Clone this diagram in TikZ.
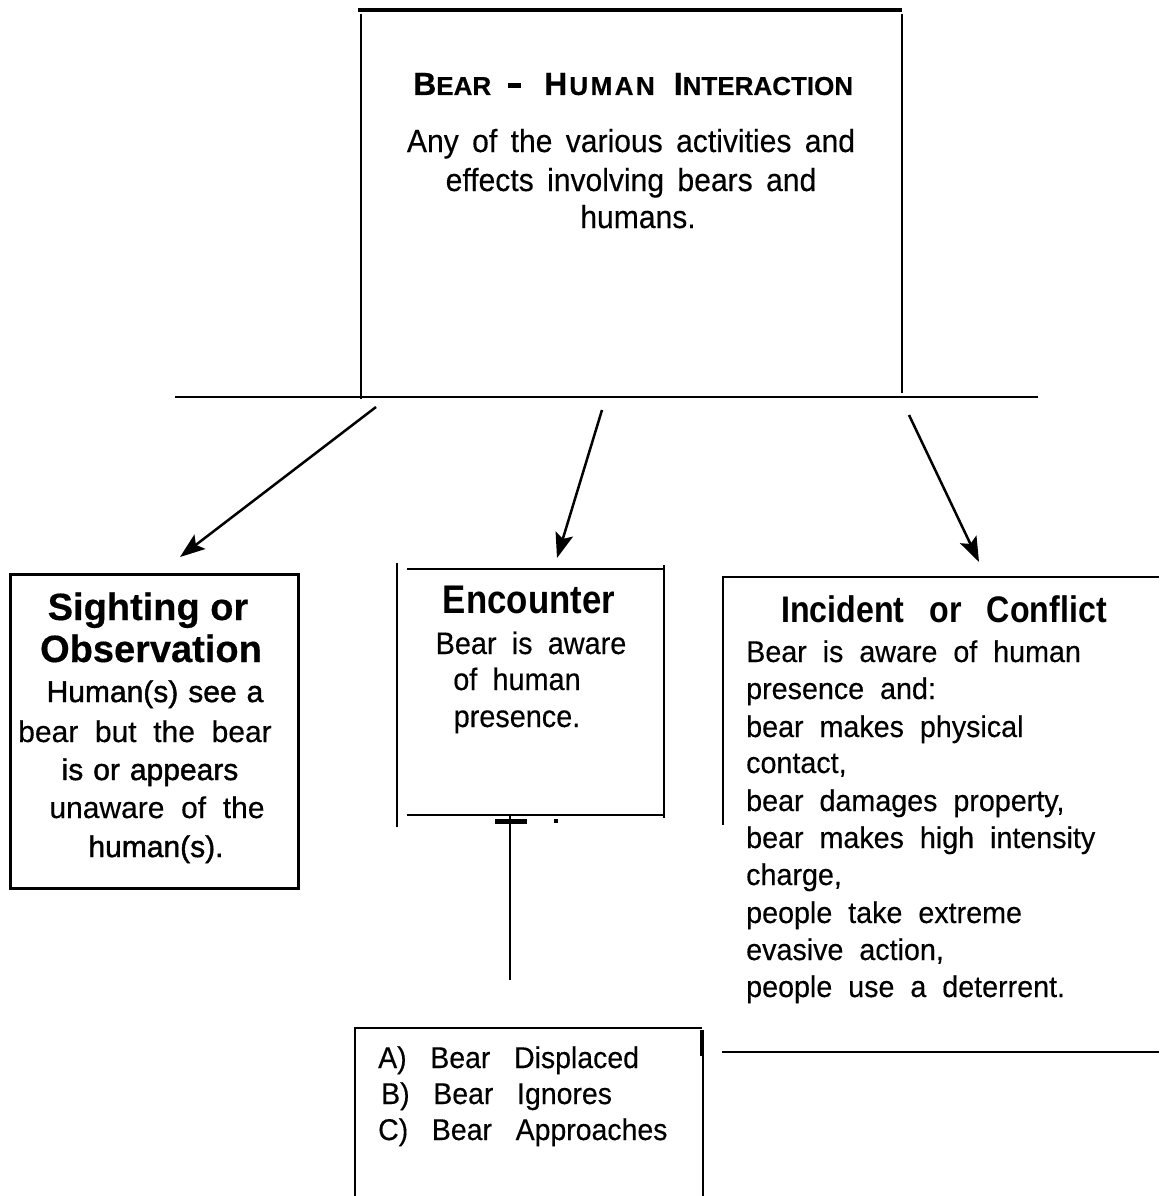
\documentclass[tikz,border=0pt]{standalone}
\usepackage{fontspec}
\setmainfont{Liberation Sans}
\newfontfamily\titlef{Liberation Sans}[FakeBold=0.4]
\newfontfamily\topf{Liberation Sans}[WordSpace=1.6,FakeStretch=0.94,FakeBold=0.3]
\newfontfamily\incf{Liberation Sans}[WordSpace=2.0,FakeStretch=0.956,FakeBold=0.31]
\newfontfamily\encf{Liberation Sans}[WordSpace=1.9,FakeStretch=0.93,FakeBold=0.32]
\newfontfamily\headf{Liberation Sans}[WordSpace=2.8,FakeStretch=0.87]
\newfontfamily\sigf{Liberation Sans}[WordSpace=2,FakeBold=0.33]
\newfontfamily\sigsemi{Liberation Sans}[WordSpace=1.2,FakeBold=1.4]
\newfontfamily\listf{Liberation Sans}[WordSpace=3,FakeStretch=0.948,FakeBold=0.34]
\usetikzlibrary{arrows.meta}
\begin{document}
\begin{tikzpicture}[x=1pt,y=-1pt,
  ln/.style={anchor=base,inner sep=0pt},
  lnw/.style={anchor=base west,inner sep=0pt},
  topbody/.style={font=\topf\fontsize{32}{38}\selectfont},
  incbody/.style={font=\incf\fontsize{30}{36}\selectfont},
  encbody/.style={font=\encf\fontsize{31}{36}\selectfont},
  sigbody/.style={font=\sigf\fontsize{30}{36}\selectfont},
  sigsb/.style={font=\sigsemi\fontsize{30}{36}\selectfont},
  listbody/.style={font=\listf\fontsize{30}{36}\selectfont},
  edge/.style={line width=2pt},
  arr/.style={line width=2.5pt,-{Stealth[length=25pt,width=18pt,inset=5pt]}}]
\useasboundingbox (0,0) rectangle (1159,1196);
\fill[white] (0,0) rectangle (1159,1196);

% ---- top box
\draw[line width=3.5pt] (358,10) -- (902,10);
\draw[edge] (361,14) -- (361,399);
\draw[edge] (902,14) -- (902,393);
\draw[edge] (175,397) -- (1038,397);

\node[lnw,font=\titlef\bfseries\fontsize{32}{32}\selectfont] (title) at (413,95)
  {B{\fontsize{26}{26}\selectfont EAR}\hspace{17pt}\rule[7pt]{13pt}{5pt}\hspace{23pt}H\hspace{2pt}{\fontsize{26}{26}\selectfont U\hspace{2.5pt}M\hspace{2.5pt}A\hspace{2.5pt}N}\hspace{19pt}I{\fontsize{26}{26}\selectfont NTERACTION}};
\node[ln,topbody] (top1) at (631,152) {Any of the various activities and};
\node[ln,topbody] (top2) at (631,191) {effects involving bears and};
\node[ln,topbody] (top3) at (638,228) {humans.};

% ---- arrows
\coordinate (a1s) at (376,407); \coordinate (a1e) at (180,557);
\coordinate (a2s) at (602,410); \coordinate (a2e) at (557,558);
\coordinate (a3s) at (909,415); \coordinate (a3e) at (979,562);
\draw[arr] (a1s) -- (a1e);
\draw[arr] (a2s) -- (a2e);
\draw[arr] (a3s) -- (a3e);

% ---- sighting box
\draw[line width=3pt] (10,574) rectangle (298,888);
\node[ln,font=\titlef\bfseries\fontsize{38}{42}\selectfont] (s1) at (148,620) {Sighting or};
\node[ln,font=\titlef\bfseries\fontsize{38}{42}\selectfont] (s2) at (151,662) {Observation};
\node[ln,sigsb] (s3) at (155,702) {Human(s) see a};
\node[ln,sigbody] (s4) at (145,742) {bear but the bear};
\node[ln,sigsb] (s5) at (150,780) {is or appears};
\node[ln,sigbody] (s6) at (157,818) {unaware of the};
\node[ln,sigsb] (s7) at (156,857) {human(s).};

% ---- encounter box
\draw[edge] (397,563) -- (397,827);
\draw[edge] (407,569) -- (664,569);
\draw[edge] (664,565) -- (664,818);
\draw[edge] (407,815) -- (664,815);
\node[ln,font=\headf\bfseries\fontsize{40}{40}\selectfont] (e0) at (529,613) {Encounter};
\node[ln,encbody] (e1) at (531,654) {Bear is aware};
\node[ln,encbody] (e2) at (517,690) {of human};
\node[ln,encbody] (e3) at (517,727) {presence.};
\draw[line width=5pt] (495,821) -- (527,821);
\fill (554,819) rectangle (558,823);
\coordinate (vtop) at (510,815);
\coordinate (vbot) at (510,980);
\draw[edge] (vtop) -- (vbot);

% ---- bottom list box
\draw[edge] (354,1028) -- (702,1028);
\draw[edge] (355,1028) -- (355,1196);
\draw[line width=4pt] (702,1030) -- (702,1056);
\draw[edge] (703,1030) -- (703,1196);
\node[lnw,listbody] (l1) at (378,1068) {A) Bear Displaced};
\node[lnw,listbody] (l2) at (381,1104) {B) Bear Ignores};
\node[lnw,listbody] (l3) at (378,1140) {C) Bear Approaches};

% ---- incident box
\draw[edge] (722,577) -- (1159,577);
\draw[edge] (723,577) -- (723,825);
\draw[edge] (722,1052) -- (1159,1052);
\node[ln,font=\headf\bfseries\fontsize{37}{40}\selectfont] (i0) at (944,622) {Incident or Conflict};
\node[lnw,incbody] (i1) at (746,662) {Bear is aware of human};
\node[lnw,incbody] (i2) at (746,699) {presence and:};
\node[lnw,incbody] (i3) at (746,737) {bear makes physical};
\node[lnw,incbody] (i4) at (746,773) {contact,};
\node[lnw,incbody] (i5) at (746,811) {bear damages property,};
\node[lnw,incbody] (i6) at (746,848) {bear makes high intensity};
\node[lnw,incbody] (i7) at (746,885) {charge,};
\node[lnw,incbody] (i8) at (746,923) {people take extreme};
\node[lnw,incbody] (i9) at (746,960) {evasive action,};
\node[lnw,incbody] (i10) at (746,997) {people use a deterrent.};
\end{tikzpicture}
\end{document}
